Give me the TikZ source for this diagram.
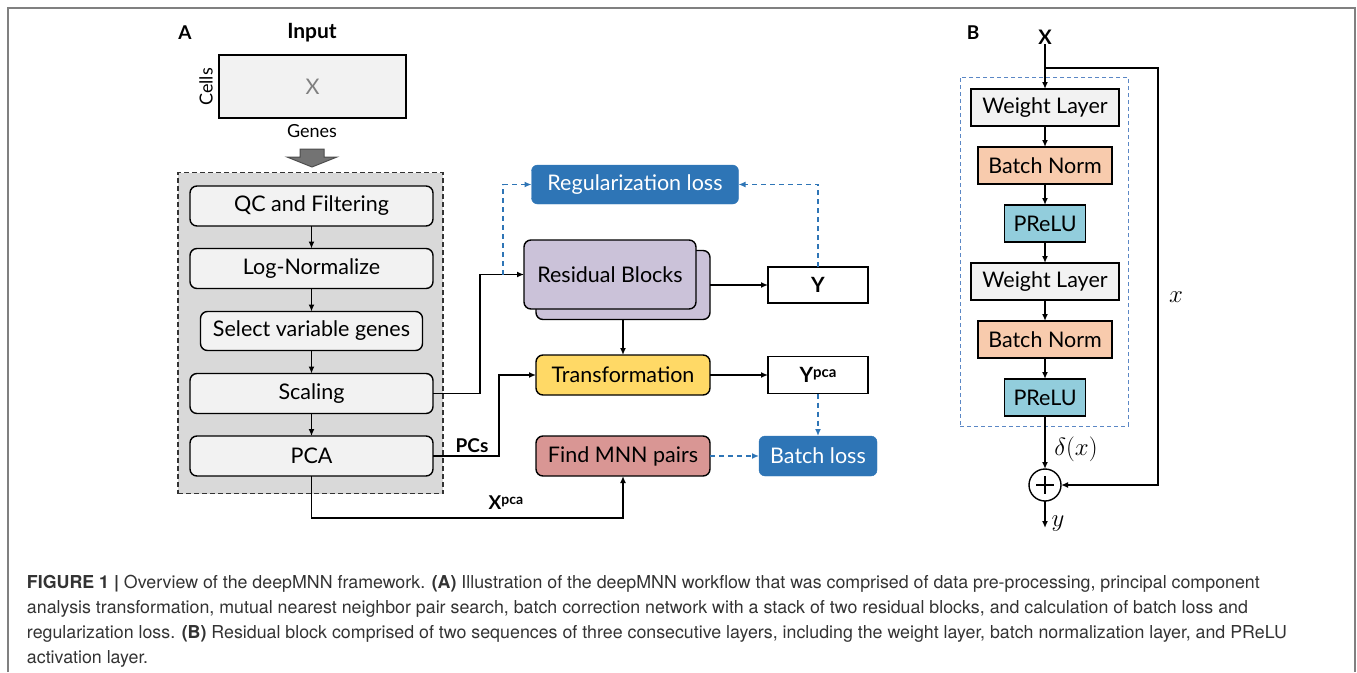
\documentclass[tikz,border=0pt]{standalone}
\usepackage{fontspec}
\setmainfont{Lato}
\newfontfamily\capfont{TeX Gyre Heros}
\usetikzlibrary{arrows.meta,calc}
\definecolor{panelgray}{HTML}{D9D9D9}
\definecolor{boxgray}{HTML}{F2F2F2}
\definecolor{lossblue}{HTML}{2E75B6}
\definecolor{resviolet}{HTML}{CBC2D9}
\definecolor{transyellow}{HTML}{FFD966}
\definecolor{mnnred}{HTML}{D99694}
\definecolor{bnorange}{HTML}{F8CBAD}
\definecolor{prelublue}{HTML}{92CDDC}
\definecolor{dashblue}{HTML}{5B87C5}
\definecolor{framegray}{HTML}{808080}
\definecolor{captext}{HTML}{333333}
\begin{document}
\begin{tikzpicture}[x=1pt,y=-1pt,
  every node/.style={inner sep=0pt,outer sep=0pt},
  txt/.style={font=\fontsize{21.5}{25}\selectfont},
  stepbox/.style={draw=black,line width=1.4pt,rounded corners=7pt,fill=boxgray,txt},
  colbox/.style={draw=black,line width=1.4pt,rounded corners=7pt,txt},
  lossbox/.style={draw=lossblue,fill=lossblue,rounded corners=6pt,text=white,txt},
  outbox/.style={draw=black,line width=1.4pt,fill=white,txt},
  layerbox/.style={draw=black,line width=1.4pt,txt,minimum height=37pt},
  conn/.style={draw=black,line width=1.4pt,-{Latex[length=7pt,width=6pt]}},
  dconn/.style={draw=lossblue,line width=1.4pt,dash pattern=on 5pt off 4pt,-{Latex[length=7pt,width=6pt]}},
  lbl/.style={font=\bfseries\fontsize{19}{22}\selectfont},
  mathlbl/.style={font=\fontsize{23}{26}\selectfont},
  capline/.style={anchor=west,text=captext,font=\capfont\fontsize{17.8}{22}\selectfont}
]
\useasboundingbox (0,0) rectangle (1357,672);
\draw[framegray,line width=1.5pt] (8,672) -- (8,8) -- (1355,8) -- (1355,672);

% ---------- Panel A ----------
\node[font=\bfseries\fontsize{19}{22}\selectfont] (labA) at (185,33) {A};
\node[font=\bfseries\fontsize{21}{24}\selectfont] (input) at (312,33) {Input};
\node[draw=black,line width=1.4pt,fill=boxgray,minimum width=187pt,minimum height=63pt,
  text=framegray,txt] (xmat) at (312.5,86.5) {X};
\node[rotate=90,font=\fontsize{18}{21}\selectfont] (cells) at (206,87) {Cells};
\node[font=\fontsize{18}{21}\selectfont] (genes) at (312,131) {Genes};
\draw[fill=black!55,draw=black!70,line width=1pt]
  (300,149) -- (324,149) -- (324,157) -- (337,157) -- (312,167) -- (287,157) -- (300,157) -- cycle;

\node[draw=black!80,line width=1.4pt,dash pattern=on 5pt off 3pt,fill=panelgray,
  minimum width=265pt,minimum height=321pt] (panel) at (310.5,333) {};

\node[stepbox,minimum width=243pt,minimum height=40pt] (qc) at (311.5,206) {QC and Filtering};
\node[stepbox,minimum width=243pt,minimum height=40pt] (lognorm) at (311.5,268.5) {Log-Normalize};
\node[stepbox,minimum width=222pt,minimum height=39pt] (select) at (311.5,331) {Select variable genes};
\node[stepbox,minimum width=243pt,minimum height=40pt] (scaling) at (311.5,393.5) {Scaling};
\node[stepbox,minimum width=243pt,minimum height=40pt] (pca) at (311.5,456) {PCA};
\draw[conn] (qc) -- (lognorm);
\draw[conn] (lognorm) -- (select);
\draw[conn] (select) -- (scaling);
\draw[conn] (scaling) -- (pca);

\node[lossbox,minimum width=207pt,minimum height=39pt] (reg) at (635,184.5) {Regularization loss};
\node[colbox,fill=resviolet,minimum width=174pt,minimum height=69pt] (rbback) at (623,285) {};
\node[colbox,fill=resviolet,minimum width=172pt,minimum height=69pt] (rbfront) at (610,274.5) {Residual Blocks};
\node[outbox,minimum width=100pt,minimum height=36pt,font=\bfseries\fontsize{21}{24}\selectfont] (yout) at (818,285) {Y};
\node[colbox,fill=transyellow,minimum width=174pt,minimum height=40pt] (trans) at (623,375) {Transformation};
\node[outbox,minimum width=100pt,minimum height=37pt,font=\bfseries\fontsize{21}{24}\selectfont] (ypca) at (818,375) {Y\raisebox{5pt}{\fontsize{15}{17}\selectfont pca}};
\node[colbox,fill=mnnred,minimum width=174pt,minimum height=40pt] (mnn) at (623,456) {Find MNN pairs};
\node[lossbox,minimum width=118pt,minimum height=40pt] (batch) at (818,456) {Batch loss};

\draw[conn] (rbback.east) -- (yout.west);
\draw[conn] (rbback.south) -- (trans.north);
\draw[conn] (trans.east) -- (ypca.west);
\coordinate (scalturn) at ($(scaling.east)+(47,0)$);
\draw[conn] (scaling.east) -- (scalturn) |- (rbfront.west);
\coordinate (regsplit) at (503,274.5);
\draw[dconn] (regsplit) |- (reg.west);
\draw[dconn] (yout.north) |- (reg.east);
\coordinate (pcaturn) at ($(pca.east)+(66,0)$);
\draw[conn] (pca.east) -- (pcaturn) |- (trans.west);
\node[lbl] (pcs) at (472,446) {PCs};
\coordinate (xpcaturn) at ($(pca.south)+(0,42)$);
\draw[conn] (pca.south) -- (xpcaturn) -| (mnn.south);
\node[lbl] (xpca) at (506,503) {X\raisebox{5pt}{\fontsize{14}{16}\selectfont pca}};
\draw[dconn] (mnn.east) -- (batch.west);
\draw[dconn] (ypca.south) -- (batch.north);

% ---------- Panel B ----------
\node[font=\bfseries\fontsize{19}{22}\selectfont] (labB) at (973,33) {B};
\node[font=\bfseries\fontsize{20}{23}\selectfont] (xin) at (1045,37) {X};
\node[draw=dashblue,line width=1pt,dash pattern=on 4pt off 3pt,minimum width=168pt,minimum height=349pt] (resbox) at (1044,251.5) {};
\node[layerbox,fill=boxgray,minimum width=148pt] (wl1) at (1045,107.5) {Weight Layer};
\node[layerbox,fill=bnorange,minimum width=134pt] (bn1) at (1045,165.5) {Batch Norm};
\node[layerbox,fill=prelublue,minimum width=81pt] (pr1) at (1045,223.5) {PReLU};
\node[layerbox,fill=boxgray,minimum width=148pt] (wl2) at (1045,281.5) {Weight Layer};
\node[layerbox,fill=bnorange,minimum width=134pt] (bn2) at (1045,339.5) {Batch Norm};
\node[layerbox,fill=prelublue,minimum width=81pt] (pr2) at (1045,397.5) {PReLU};
\node[draw=black,line width=1.4pt,circle,minimum size=32pt,fill=white] (plus) at (1045,485) {};
\draw[line width=2.6pt] ($(plus.center)+(-9,0)$) -- ($(plus.center)+(9,0)$);
\draw[line width=2.6pt] ($(plus.center)+(0,-9)$) -- ($(plus.center)+(0,9)$);
\coordinate (branch) at (1045,68);
\coordinate (skipturn) at (1158,68);
\coordinate (yend) at (1045,528);
\draw[conn] (xin.south) -- (wl1.north);
\draw[conn] (branch) -- (skipturn) |- (plus.east);
\draw[conn] (wl1) -- (bn1);
\draw[conn] (bn1) -- (pr1);
\draw[conn] (pr1) -- (wl2);
\draw[conn] (wl2) -- (bn2);
\draw[conn] (bn2) -- (pr2);
\draw[conn] (pr2) -- (plus.north);
\draw[conn] (plus.south) -- (yend);
\node[mathlbl] (delta) at (1076,449) {$\delta(x)$};
\node[mathlbl] (xskip) at (1176,297) {$x$};
\node[mathlbl] (yl) at (1058,524) {$y$};

% ---------- Caption ----------
\node[capline] (cap1) at (27,584) {\textbf{FIGURE 1} \textbf{|} Overview of the deepMNN framework. \textbf{(A)} Illustration of the deepMNN workflow that was comprised of data pre-processing, principal component};
\node[capline] (cap2) at (27,609) {analysis transformation, mutual nearest neighbor pair search, batch correction network with a stack of two residual blocks, and calculation of batch loss and};
\node[capline] (cap3) at (27,634) {regularization loss. \textbf{(B)} Residual block comprised of two sequences of three consecutive layers, including the weight layer, batch normalization layer, and PReLU};
\node[capline] (cap4) at (27,659) {activation layer.};
\end{tikzpicture}
\end{document}
